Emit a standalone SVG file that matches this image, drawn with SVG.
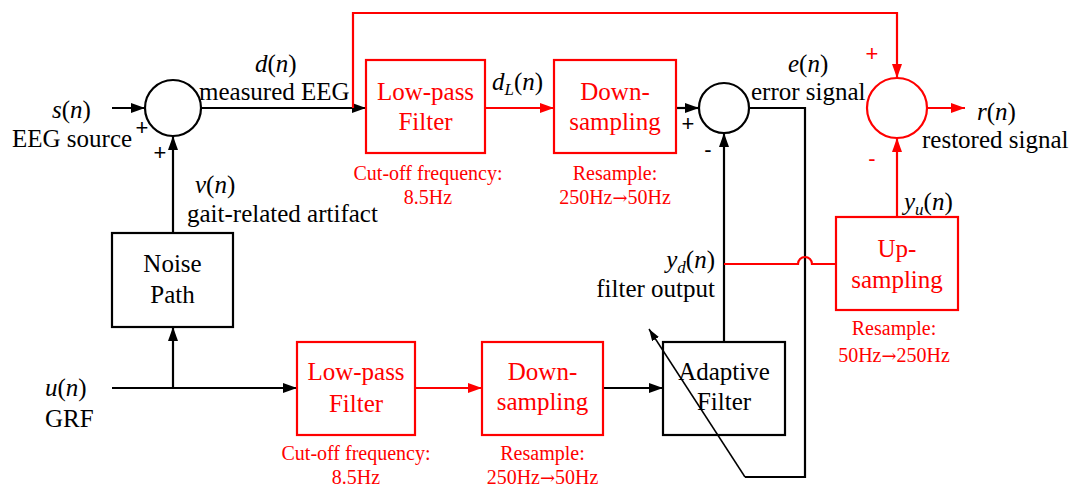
<svg xmlns="http://www.w3.org/2000/svg" width="1075" height="488" viewBox="0 0 1075 488">
<style>
text{font-family:"Liberation Serif","Times New Roman",serif;font-size:25px;fill:#000}
.r{fill:#ff0000}
.note{font-size:20px;fill:#ff0000;text-anchor:middle}
.arw{font-family:"DejaVu Serif",serif;font-size:18px}
.c{text-anchor:middle}
.i{font-style:italic}
.sub{font-style:italic;font-size:17px}
.box{fill:none;stroke:#000;stroke-width:2.2}
.rbox{fill:none;stroke:#ff0000;stroke-width:2.2}
.ln{fill:none;stroke:#000;stroke-width:2.2}
.rln{fill:none;stroke:#ff0000;stroke-width:2.2}
.sign{font-family:"Liberation Sans",Arial,sans-serif;font-size:22px}
</style>
<defs>
<marker id="ab" viewBox="0 0 14 10" refX="14" refY="5" markerWidth="14" markerHeight="10" markerUnits="userSpaceOnUse" orient="auto"><path d="M0,0 L14,5 L0,10 z" fill="#000"/></marker>
<marker id="ar" viewBox="0 0 14 10" refX="14" refY="5" markerWidth="14" markerHeight="10" markerUnits="userSpaceOnUse" orient="auto"><path d="M0,0 L14,5 L0,10 z" fill="#ff0000"/></marker>
<marker id="as" viewBox="0 0 12 8" refX="12" refY="4" markerWidth="12" markerHeight="8" markerUnits="userSpaceOnUse" orient="auto"><path d="M0,0 L12,4 L0,8 z" fill="#000"/></marker>
</defs>
<rect width="1075" height="488" fill="#fff"/>

<g id="connectors">
<path class="ln" d="M112,108 L145,108" marker-end="url(#ab)"/>
<path class="ln" d="M201,108 L366,108" marker-end="url(#ab)"/>
<path class="rln" d="M353,108 L353,13 L897,13 L897,78" marker-end="url(#ar)"/>
<path class="rln" d="M485,108 L554,108" marker-end="url(#ar)"/>
<path class="ln" d="M676,108 L699,108" marker-end="url(#ab)"/>
<path class="ln" d="M749,108 L805,108 L805,477 L745,477"/>
<path fill="none" stroke="#000" stroke-width="1.5" d="M745,477 L649,329" marker-end="url(#as)"/>
<path class="ln" d="M173,233 L173,136" marker-end="url(#ab)"/>
<path class="ln" d="M112,388 L297,388" marker-end="url(#ab)"/>
<path class="ln" d="M173,388 L173,327" marker-end="url(#ab)"/>
<path class="rln" d="M415,388 L482,388" marker-end="url(#ar)"/>
<path class="ln" d="M603,388 L663,388" marker-end="url(#ab)"/>
<path class="ln" d="M724,342 L724,133" marker-end="url(#ab)"/>
<path class="rln" d="M724,264 L798,264 A7,7 0 0 1 812,264 L836,264"/>
<path class="rln" d="M897,217 L897,138" marker-end="url(#ar)"/>
<path class="rln" d="M927,108 L965,108" marker-end="url(#ar)"/>
</g>

<g id="sum1">
<circle cx="173" cy="108" r="28" fill="none" stroke="#000" stroke-width="2.2"/>
<text class="sign" x="142" y="135" text-anchor="middle">+</text>
<text class="sign" x="160" y="160" text-anchor="middle">+</text>
</g>

<g id="sum2">
<circle cx="724" cy="108" r="25" fill="none" stroke="#000" stroke-width="2.2"/>
<text class="sign" x="688" y="131" text-anchor="middle">+</text>
<text class="sign" x="708" y="157" text-anchor="middle">-</text>
</g>

<g id="sum3">
<circle cx="897" cy="108" r="30" fill="none" stroke="#ff0000" stroke-width="2.2"/>
<text class="sign r" x="872" y="61" text-anchor="middle">+</text>
<text class="sign r" x="872" y="166" text-anchor="middle">-</text>
</g>

<g id="noise-path">
<rect class="box" x="112" y="233" width="121" height="94"/>
<text class="c" x="172.5" y="272">Noise</text>
<text class="c" x="172.5" y="303">Path</text>
</g>

<g id="lpf1">
<rect class="rbox" x="366" y="60" width="119" height="93"/>
<text class="c r" x="425.5" y="100">Low-pass</text>
<text class="c r" x="425.5" y="130">Filter</text>
<text class="note" x="428" y="180">Cut-off frequency:</text>
<text class="note" x="428" y="204">8.5Hz</text>
</g>

<g id="ds1">
<rect class="rbox" x="554" y="60" width="122" height="93"/>
<text class="c r" x="615" y="100">Down-</text>
<text class="c r" x="615" y="130">sampling</text>
<text class="note" x="615" y="180">Resample:</text>
<text class="note" x="615" y="204">250Hz<tspan class="arw">→</tspan>50Hz</text>
</g>

<g id="lpf2">
<rect class="rbox" x="297" y="342" width="118" height="93"/>
<text class="c r" x="356" y="380">Low-pass</text>
<text class="c r" x="356" y="412">Filter</text>
<text class="note" x="356" y="460">Cut-off frequency:</text>
<text class="note" x="356" y="484">8.5Hz</text>
</g>

<g id="ds2">
<rect class="rbox" x="482" y="342" width="121" height="93"/>
<text class="c r" x="542.5" y="380">Down-</text>
<text class="c r" x="542.5" y="410">sampling</text>
<text class="note" x="542.5" y="460">Resample:</text>
<text class="note" x="542.5" y="484">250Hz<tspan class="arw">→</tspan>50Hz</text>
</g>

<g id="adaptive-filter">
<rect class="box" x="663" y="342" width="122" height="93"/>
<text class="c" x="724" y="380">Adaptive</text>
<text class="c" x="724" y="410">Filter</text>
</g>

<g id="upsampling">
<rect class="rbox" x="836" y="217" width="122" height="93"/>
<text class="c r" x="897" y="257">Up-</text>
<text class="c r" x="897" y="288">sampling</text>
<text class="note" x="894" y="335">Resample:</text>
<text class="note" x="894" y="362">50Hz<tspan class="arw">→</tspan>250Hz</text>
</g>

<g id="labels">
<text x="52" y="118"><tspan class="i">s</tspan>(<tspan class="i">n</tspan>)</text>
<text x="12" y="147">EEG source</text>
<text x="255" y="72"><tspan class="i">d</tspan>(<tspan class="i">n</tspan>)</text>
<text x="199" y="100">measured EEG</text>
<text x="195" y="193"><tspan class="i">v</tspan>(<tspan class="i">n</tspan>)</text>
<text x="187" y="222">gait-related artifact</text>
<text x="492" y="90"><tspan class="i">d</tspan><tspan class="sub" dy="5">L</tspan><tspan dy="-5">(</tspan><tspan class="i">n</tspan>)</text>
<text x="788" y="72"><tspan class="i">e</tspan>(<tspan class="i">n</tspan>)</text>
<text x="751" y="100">error signal</text>
<text x="977" y="120"><tspan class="i">r</tspan>(<tspan class="i">n</tspan>)</text>
<text x="922" y="148">restored signal</text>
<text x="904" y="210"><tspan class="i">y</tspan><tspan class="sub" dy="5">u</tspan><tspan dy="-5">(</tspan><tspan class="i">n</tspan>)</text>
<text x="715" y="268" text-anchor="end"><tspan class="i">y</tspan><tspan class="sub" dy="5">d</tspan><tspan dy="-5">(</tspan><tspan class="i">n</tspan>)</text>
<text x="715" y="297" text-anchor="end">filter output</text>
<text x="45" y="396"><tspan class="i">u</tspan>(<tspan class="i">n</tspan>)</text>
<text x="45" y="427">GRF</text>
</g>
</svg>
